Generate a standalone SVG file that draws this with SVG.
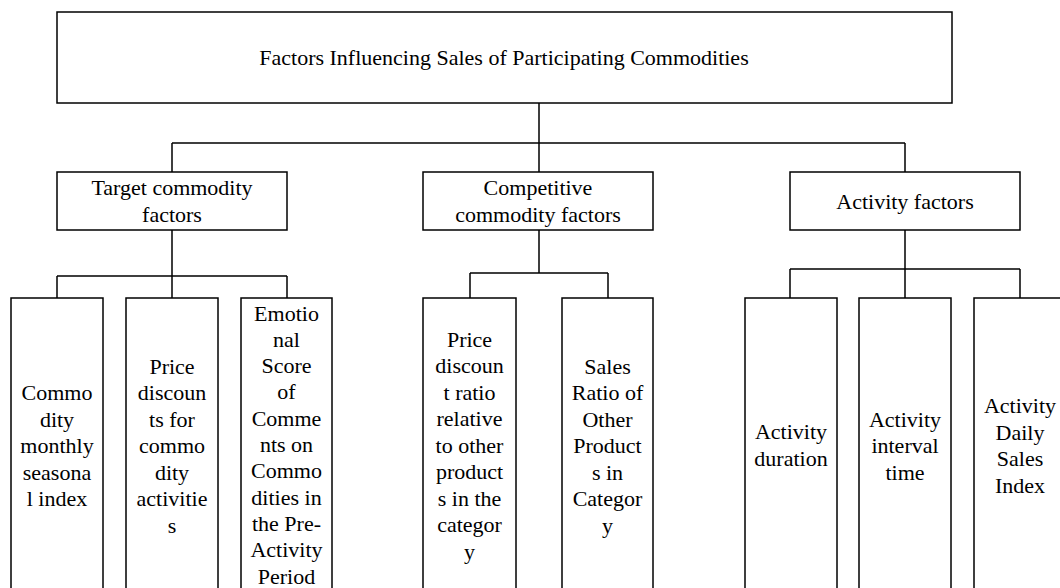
<svg xmlns="http://www.w3.org/2000/svg" width="1060" height="588" viewBox="0 0 1060 588">
<style>
.box{fill:#fff;stroke:#000;stroke-width:1.5}
.ln{fill:none;stroke:#000;stroke-width:1.5}
text{font-family:"Liberation Serif","Times New Roman",serif;font-size:22px;fill:#000;text-anchor:middle}
</style>
<rect width="1060" height="588" fill="#fff"/>
<g id="connectors">
<path class="ln" d="M539 103V143M172 143H905M172 143V172M539 143V172M905 143V172"/>
<path class="ln" d="M172 230V276M57 276H287M57 276V298M172 276V298M287 276V298"/>
<path class="ln" d="M539 230V273M470 273H608M470 273V298M608 273V298"/>
<path class="ln" d="M905 230V269M790 269H1020M790 269V298M905 269V298M1020 269V298"/>
</g>
<g id="root"><rect class="box" x="57" y="12" width="895" height="91"/><text x="504" y="65">Factors Influencing Sales of Participating Commodities</text></g>
<g id="target"><rect class="box" x="57" y="172" width="230" height="58"/><text x="172" y="195">Target commodity</text><text x="172" y="222">factors</text></g>
<g id="competitive"><rect class="box" x="423" y="172" width="230" height="58"/><text x="538" y="195">Competitive</text><text x="538" y="222">commodity factors</text></g>
<g id="activity"><rect class="box" x="790" y="172" width="230" height="58"/><text x="905" y="209">Activity factors</text></g>
<g id="t1"><rect class="box" x="11" y="298" width="92" height="300"/><text><tspan x="57" y="400">Commo</tspan><tspan x="57" y="426.5">dity</tspan><tspan x="57" y="453">monthly</tspan><tspan x="57" y="479.5">seasona</tspan><tspan x="57" y="506">l index</tspan></text></g>
<g id="t2"><rect class="box" x="126" y="298" width="92" height="300"/><text><tspan x="172" y="373.5">Price</tspan><tspan x="172" y="400">discoun</tspan><tspan x="172" y="426.5">ts for</tspan><tspan x="172" y="453">commo</tspan><tspan x="172" y="479.5">dity</tspan><tspan x="172" y="506">activitie</tspan><tspan x="172" y="532.5">s</tspan></text></g>
<g id="t3"><rect class="box" x="241" y="298" width="91" height="300"/><text><tspan x="286.5" y="320.5">Emotio</tspan><tspan x="286.5" y="346.8">nal</tspan><tspan x="286.5" y="373.1">Score</tspan><tspan x="286.5" y="399.4">of</tspan><tspan x="286.5" y="425.7">Comme</tspan><tspan x="286.5" y="452">nts on</tspan><tspan x="286.5" y="478.3">Commo</tspan><tspan x="286.5" y="504.6">dities in</tspan><tspan x="286.5" y="530.9">the Pre-</tspan><tspan x="286.5" y="557.2">Activity</tspan><tspan x="286.5" y="583.5">Period</tspan></text></g>
<g id="c1"><rect class="box" x="423" y="298" width="93" height="300"/><text><tspan x="469.5" y="346.5">Price</tspan><tspan x="469.5" y="373">discoun</tspan><tspan x="469.5" y="399.5">t ratio</tspan><tspan x="469.5" y="426">relative</tspan><tspan x="469.5" y="452.5">to other</tspan><tspan x="469.5" y="479">product</tspan><tspan x="469.5" y="505.5">s in the</tspan><tspan x="469.5" y="532">categor</tspan><tspan x="469.5" y="558.5">y</tspan></text></g>
<g id="c2"><rect class="box" x="562" y="298" width="91" height="300"/><text><tspan x="607.5" y="373.5">Sales</tspan><tspan x="607.5" y="400">Ratio of</tspan><tspan x="607.5" y="426.5">Other</tspan><tspan x="607.5" y="453">Product</tspan><tspan x="607.5" y="479.5">s in</tspan><tspan x="607.5" y="506">Categor</tspan><tspan x="607.5" y="532.5">y</tspan></text></g>
<g id="a1"><rect class="box" x="745" y="298" width="92" height="300"/><text><tspan x="791" y="439">Activity</tspan><tspan x="791" y="465.5">duration</tspan></text></g>
<g id="a2"><rect class="box" x="859" y="298" width="92" height="300"/><text><tspan x="905" y="426.5">Activity</tspan><tspan x="905" y="453">interval</tspan><tspan x="905" y="479.5">time</tspan></text></g>
<g id="a3"><rect class="box" x="974" y="298" width="92" height="300"/><text><tspan x="1020" y="413">Activity</tspan><tspan x="1020" y="439.5">Daily</tspan><tspan x="1020" y="466">Sales</tspan><tspan x="1020" y="492.5">Index</tspan></text></g>
</svg>
